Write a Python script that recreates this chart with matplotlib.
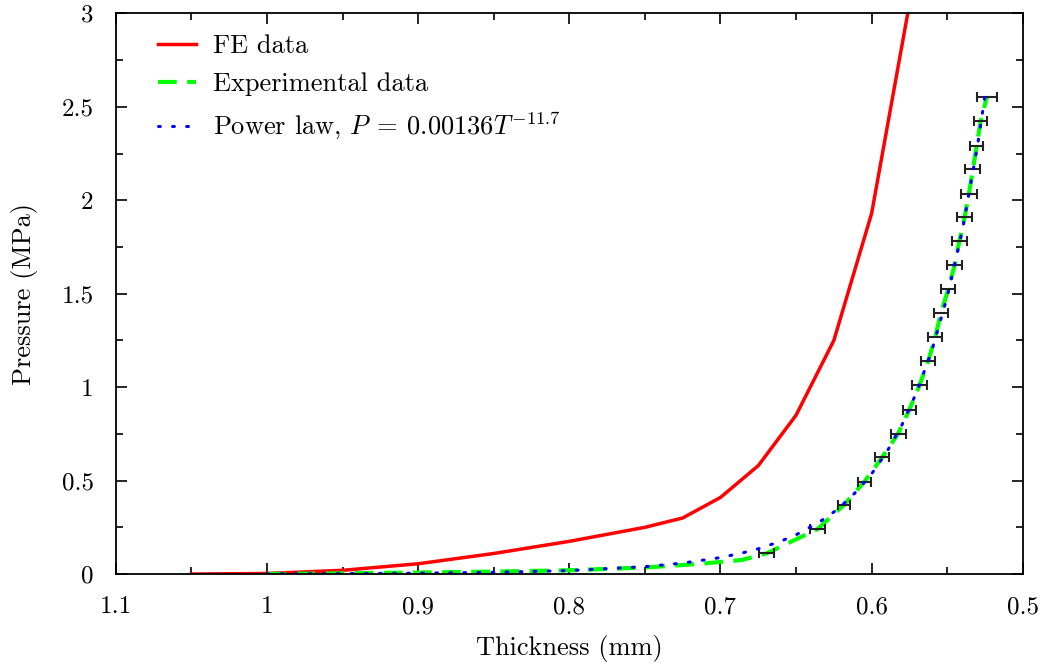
import numpy as np
import matplotlib
matplotlib.use("Agg")
from matplotlib import pyplot as plt
from matplotlib.ticker import MultipleLocator

plt.rcParams['font.family'] = 'serif'
plt.rcParams['font.serif'] = ['cmr10']
plt.rcParams['mathtext.fontset'] = 'cm'
plt.rcParams['axes.unicode_minus'] = False
plt.rcParams['axes.formatter.use_mathtext'] = True

# FE simulation
fe_t = [1.05, 1.0, 0.95, 0.9, 0.85, 0.8, 0.75, 0.725, 0.7, 0.675, 0.65, 0.625, 0.6, 0.575]
fe_p = [0.0, 0.003, 0.02, 0.055, 0.11, 0.175, 0.25, 0.30, 0.41, 0.58, 0.85, 1.25, 1.93, 3.05]

# experimental data (points with error bars from 0.67 mm on)
exp_t = [1.0, 0.95, 0.9, 0.85, 0.8, 0.75, 0.713, 0.686,
         0.6694, 0.6359, 0.6184, 0.6047, 0.5931, 0.5825, 0.5750, 0.5684, 0.5626, 0.5579,
         0.5542, 0.5493, 0.5451, 0.5420, 0.5385, 0.5356, 0.5330, 0.5305, 0.5279, 0.5237]
exp_p = [0.0, 0.004, 0.008, 0.013, 0.02, 0.035, 0.055, 0.075,
         0.111, 0.240, 0.369, 0.495, 0.624, 0.751, 0.880, 1.009, 1.138, 1.269,
         1.395, 1.524, 1.653, 1.780, 1.909, 2.036, 2.165, 2.293, 2.422, 2.553]
exp_err = [0.0] * 8 + [0.005, 0.005, 0.004, 0.004, 0.0045, 0.005, 0.0045, 0.005, 0.0045, 0.0045,
                       0.0045, 0.0045, 0.005, 0.005, 0.005, 0.005, 0.005, 0.0045, 0.0045, 0.0066]
n_plain = 8

# power law fit, P = 0.00136 T^-11.7
fit_t = [1.0, 0.95, 0.9, 0.85, 0.8, 0.75, 0.725, 0.7, 0.685, 0.675, 0.66, 0.65, 0.635, 0.625,
         0.62, 0.61, 0.6, 0.59, 0.58, 0.57, 0.56, 0.55, 0.54, 0.53, 0.524]
fit_p = [0.00136, 0.00248, 0.00467, 0.00911, 0.0185, 0.0394, 0.0586, 0.088, 0.114, 0.135,
         0.176, 0.210, 0.276, 0.332, 0.365, 0.442, 0.536, 0.653, 0.797, 0.977, 1.201, 1.483,
         1.839, 2.289, 2.614]

fs = 19

fig = plt.figure(figsize=(10.49, 6.71), dpi=100)
ax = fig.add_axes([0.1105, 0.1445, 0.8645, 0.8355])

ax.plot(fe_t, fe_p, color='#ff0000', lw=2.5, label='FE data')
ax.plot(exp_t, exp_p, color='#00ff00', lw=3, dashes=(4.5, 2.5), label='Experimental data')
ax.errorbar(exp_t[n_plain:], exp_p[n_plain:], xerr=exp_err[n_plain:], fmt='none',
            ecolor='#222222', elinewidth=1.5, capsize=3.5, capthick=1.5)
ax.plot(fit_t, fit_p, color='#0000ff', lw=2.2, dashes=(0.6, 4.0), dash_capstyle='round',
        label=r'Power law, $P\:=\:0.00136T^{-11.7}$')

ax.set_xlim(1.1, 0.5)
ax.set_ylim(0, 3)
ax.xaxis.set_minor_locator(MultipleLocator(0.05))
ax.yaxis.set_minor_locator(MultipleLocator(0.25))
ax.set_xticks([1.1, 1.0, 0.9, 0.8, 0.7, 0.6, 0.5])
ax.set_xticklabels(['1.1', '1', '0.9', '0.8', '0.7', '0.6', '0.5'])
ax.set_yticks([0, 0.5, 1, 1.5, 2, 2.5, 3])
ax.set_yticklabels(['0', '0.5', '1', '1.5', '2', '2.5', '3'])
ax.tick_params(which='both', direction='in', top=True, right=True, width=1.2,
               labelsize=fs - 1, pad=16)
ax.tick_params(which='major', length=8)
ax.tick_params(which='minor', length=5)
for s in ax.spines.values():
    s.set_linewidth(1.3)

ax.set_xlabel('Thickness (mm)', fontsize=fs, labelpad=12)
ax.set_ylabel('Pressure (MPa)', fontsize=fs, labelpad=17)

ax.legend(loc='upper left', frameon=False, fontsize=fs, handlelength=1.45,
          handletextpad=0.65, labelspacing=0.55, borderaxespad=0.5,
          bbox_to_anchor=(0.02, 1.005))

fig.savefig('out.png', dpi=100)
